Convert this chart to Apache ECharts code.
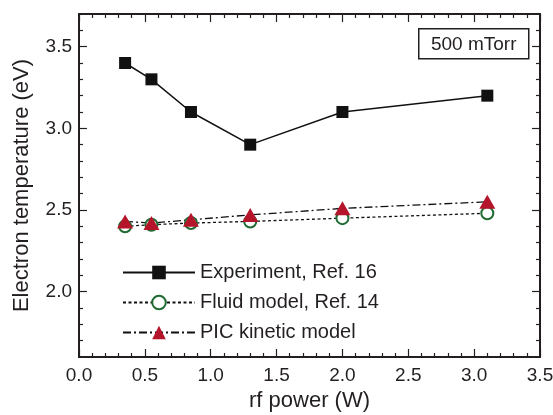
<!DOCTYPE html>
<html>
<head>
<meta charset="utf-8">
<script src="https://cdn.jsdelivr.net/npm/echarts@6/dist/echarts.min.js"></script>
<style>
  html, body { margin: 0; padding: 0; background: #fff; }
  #main { width: 553px; height: 415px; }
</style>
</head>
<body>
<div id="main"></div>
<script>
// rf power (W)
var power = [0.35, 0.55, 0.85, 1.3, 2.0, 3.1];
// electron temperature (eV)
var experiment = [3.4, 3.3, 3.1, 2.9, 3.1, 3.2];
var fluidModel = [2.40, 2.41, 2.42, 2.43, 2.45, 2.48];
var picModel = [2.43, 2.42, 2.44, 2.47, 2.51, 2.55];
// y tick values
var yMajor = [2.0, 2.5, 3.0, 3.5];
var yMinor = [1.7, 1.8, 1.9, 2.1, 2.2, 2.3, 2.4, 2.6, 2.7, 2.8, 2.9, 3.1, 3.2, 3.3, 3.4, 3.6];

var FONT = "Liberation Sans, Arial, sans-serif";
var INK = "#231f20";

function pairs(ys) {
  return power.map(function (x, i) { return [x, ys[i]]; });
}

function yAx(pos, ticks, len, labels) {
  return {
    type: "value", position: pos, min: 1.6, max: 3.7,
    splitLine: { show: false },
    axisLine: { show: true, lineStyle: { color: INK, width: 2 } },
    axisTick: { show: true, inside: true, length: len, customValues: ticks, lineStyle: { color: INK, width: 1.2 } },
    axisLabel: labels
      ? { show: true, customValues: yMajor, color: INK, fontSize: 19, fontFamily: FONT, margin: 7,
          formatter: function (v) { return v.toFixed(1); } }
      : { show: false }
  };
}

function xAx(pos, labels) {
  return {
    type: "value", position: pos, min: 0, max: 3.5, interval: 0.5,
    splitLine: { show: false },
    axisLine: { show: true, lineStyle: { color: INK, width: 2 } },
    axisTick: { show: true, inside: true, length: 8, lineStyle: { color: INK, width: 1.2 } },
    minorTick: { show: true, splitNumber: 5, length: 4, lineStyle: { color: INK, width: 1.2 } },
    axisLabel: labels
      ? { show: true, color: INK, fontSize: 19, fontFamily: FONT, margin: 9,
          formatter: function (v) { return v.toFixed(1); } }
      : { show: false },
    name: labels ? "rf power (W)" : "",
    nameLocation: "middle", nameGap: 32,
    nameTextStyle: { color: INK, fontSize: 22, fontFamily: FONT }
  };
}

var chart = echarts.init(document.getElementById("main"));

var yLeft = yAx("left", yMajor, 8, true);
yLeft.name = "Electron temperature (eV)";
yLeft.nameLocation = "middle";
yLeft.nameGap = 46;
yLeft.nameTextStyle = { color: INK, fontSize: 22, fontFamily: FONT };

chart.setOption({
  animation: false,
  grid: { left: 79, right: 13, top: 14, bottom: 58, outerBoundsMode: "none", containLabel: false },
  xAxis: [xAx("bottom", true), xAx("top", false)],
  yAxis: [yLeft, yAx("left", yMinor, 4, false), yAx("right", yMajor, 8, false), yAx("right", yMinor, 4, false)],
  legend: {
    left: 122, top: 262, orient: "vertical", padding: 0,
    itemWidth: 72, itemHeight: 17, itemGap: 9,
    textStyle: { color: INK, fontSize: 20, lineHeight: 21, fontFamily: FONT },
    data: ["Experiment, Ref. 16", "Fluid model, Ref. 14", "PIC kinetic model"]
  },
  graphic: [{
    type: "group", left: 418, top: 28,
    children: [
      { type: "rect", shape: { x: 0, y: 0, width: 110, height: 30 },
        style: { fill: "#fff", stroke: INK, lineWidth: 1.5 } },
      { type: "text", x: 55, y: 16,
        style: { text: "500 mTorr", fill: INK, fontSize: 19, fontFamily: FONT, align: "center", verticalAlign: "middle" } }
    ]
  }],
  series: [
    {
      name: "Experiment, Ref. 16", type: "line", data: pairs(experiment),
      symbol: "rect", symbolSize: 12,
      itemStyle: { color: "#111" },
      lineStyle: { color: "#111", width: 1.5, type: "solid" }
    },
    {
      name: "Fluid model, Ref. 14", type: "line", data: pairs(fluidModel),
      symbol: "emptyCircle", symbolSize: 12,
      itemStyle: { color: "#1f6b33", borderColor: "#1f6b33", borderWidth: 1.6 },
      lineStyle: { color: "#111", width: 1.3, type: [3, 2.5] }
    },
    {
      name: "PIC kinetic model", type: "line", data: pairs(picModel),
      symbol: "triangle", symbolSize: [16, 14],
      itemStyle: { color: "#b5152b" },
      lineStyle: { color: "#111", width: 1.3, type: [8, 3, 2, 3] }
    }
  ]
});
</script>
</body>
</html>
